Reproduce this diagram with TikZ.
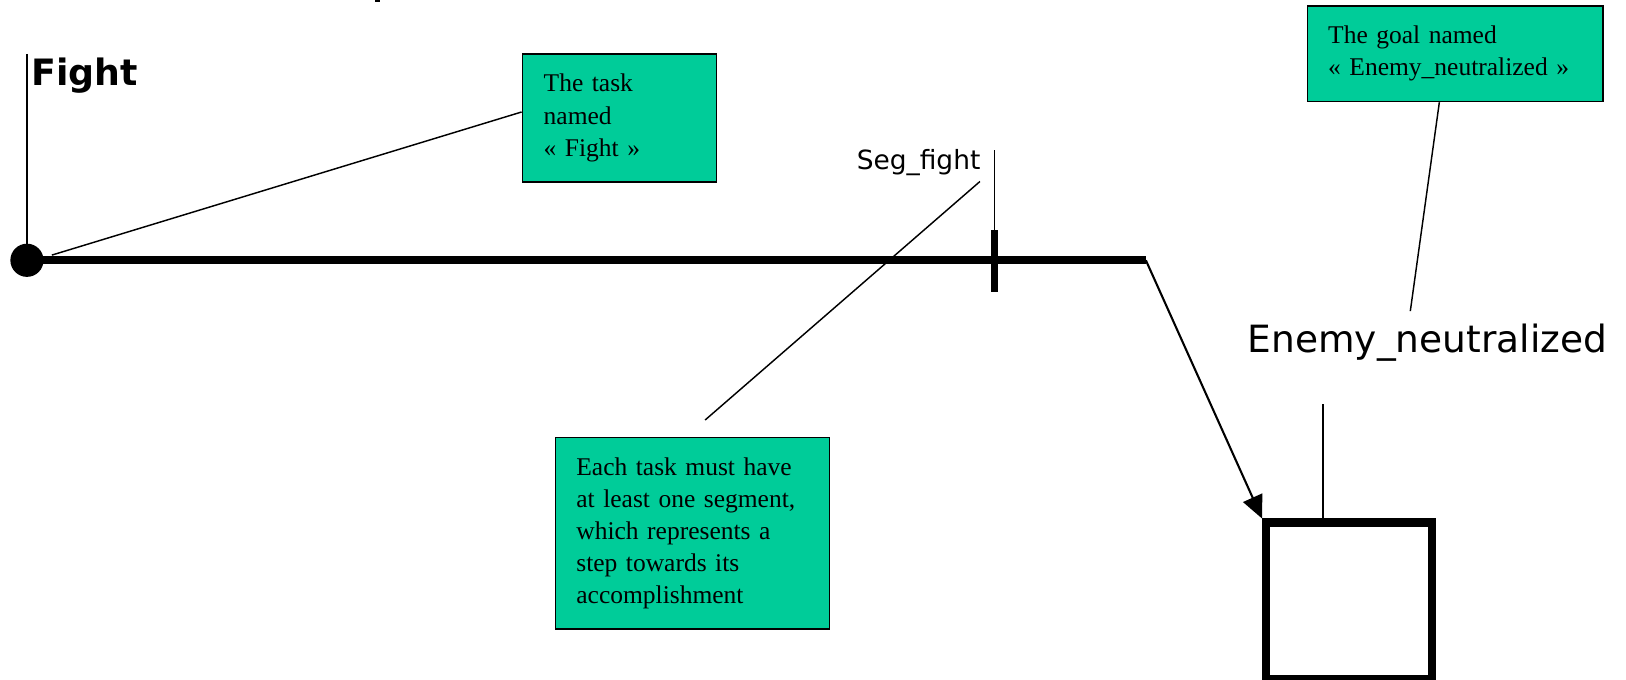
\documentclass[tikz,border=0pt]{standalone}
\usepackage{fontspec}
\setmainfont{Liberation Serif}
\newfontfamily\versans{DejaVu Sans}
\usetikzlibrary{arrows.meta,calc}
\definecolor{notegreen}{RGB}{0,204,153}
\begin{document}
\begin{tikzpicture}[x=1pt,y=-1pt,
  note/.style={draw=black, line width=1.6pt, fill=notegreen, anchor=north west,
    align=left, inner xsep=20pt, inner ysep=0pt,
    font=\fontsize{24.6}{31}\selectfont},
  thin/.style={line width=1.4pt},
  track/.style={line width=8pt},
  label/.style={inner sep=0pt, anchor=base west}]
\useasboundingbox (0,0) rectangle (1568,655);

% small mark at the top edge
\fill (362,0) rectangle (366,2);

% task start: dot, name and its stem
\node[circle, fill=black, minimum size=32pt, inner sep=0pt] (dot) at (26,251) {};
\coordinate (stemtop) at (26,52);
\draw[thin] (stemtop) -- (dot.center);
\node[label, font=\versans\bfseries\fontsize{35}{40}\selectfont] (fight) at (30,82) {Fight};

% task track with one segment tick
\coordinate (trackend) at (1105,251);
\draw[track] (dot.center) -- (trackend);
\coordinate (ticktop) at (959,222);
\coordinate (tickbot) at (959,282);
\draw[line width=7pt] (ticktop) -- (tickbot);
\coordinate (segstem) at (959,145);
\draw[thin] (segstem) -- (ticktop);
\node[label, font=\versans\fontsize{25.5}{30}\selectfont] (seg) at (826,163) {Seg\_fight};

% goal
\node[draw=black, line width=8pt, minimum width=160pt, minimum height=151pt,
  inner sep=0pt, anchor=north west] (goal) at (1217,500) {};
\coordinate (goalstem) at (1276,390);
\draw[thin] (goalstem) -- (goal.north -| goalstem);
\node[label, font=\versans\fontsize{36.2}{40}\selectfont] (goalname) at (1203,340) {Enemy\_neutralized};
\draw[line width=2pt, -{Triangle[length=22pt,width=20pt]}] (trackend) -- (goal.north west);

% notes
\node[note, minimum width=187pt, minimum height=124pt, text width=146pt] (n1) at (503,51)
  {The task\\named\\« Fight »\\[2pt]};
\node[note, minimum width=278pt, minimum height=92pt, text width=245pt] (n2) at (1260,5)
  {The goal named\\« Enemy\_neutralized »\\[10pt]};
\node[note, minimum width=262pt, minimum height=185pt, text width=224pt] (n3) at (535,421)
  {Each task must have\\at least one segment,\\which represents a\\step towards its\\accomplishment\\[4pt]};

% note leaders
\coordinate (l1a) at (50,246);
\draw[thin] (l1a) -- (n1.west |- 0,108);
\coordinate (l2a) at (1360,300);
\draw[thin] (n2.south -| 1388,0) -- (l2a);
\coordinate (l3a) at (945,175);
\coordinate (l3b) at (680,405);
\draw[thin] (l3a) -- (l3b);
\end{tikzpicture}
\end{document}
